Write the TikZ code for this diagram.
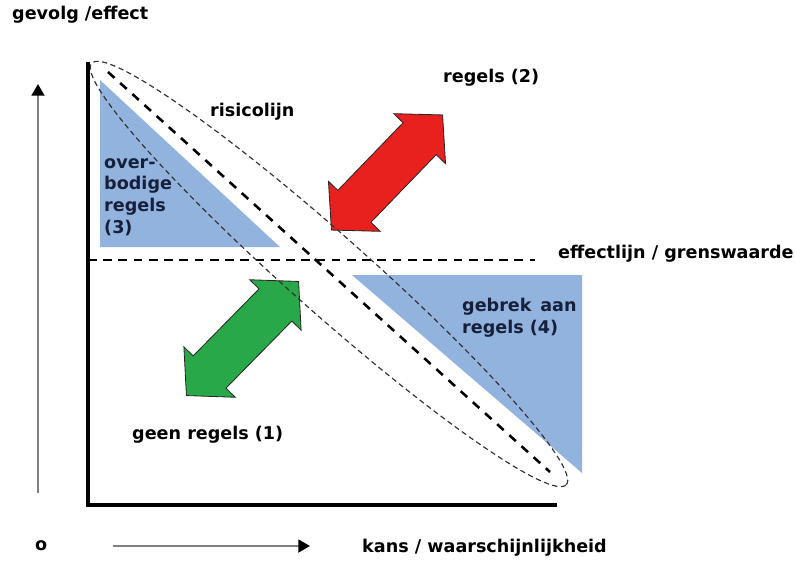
\documentclass[tikz,border=0pt]{standalone}
\usepackage{fontspec}
\setmainfont{DejaVu Sans}
\usetikzlibrary{arrows.meta,calc}
\definecolor{zoneblue}{RGB}{146,179,222}
\definecolor{alarmred}{RGB}{232,32,30}
\definecolor{safegreen}{RGB}{40,168,72}
\definecolor{zonetext}{RGB}{22,32,58}
% double block arrow: name, fill colour, centre, angle
\newcommand{\dblarrow}[4]{%
  \begin{scope}[shift={#3},rotate=#4,x=0.03cm,y=0.03cm]
    \filldraw[fill=#2,draw=black!85,line width=0.7pt] (-80,0) -- (-47,36) -- (-47,23) -- (47,23) -- (47,36) -- (80,0)
      -- (47,-36) -- (47,-23) -- (-47,-23) -- (-47,-36) -- cycle;
    \coordinate (#1) at (0,0);
  \end{scope}}

\begin{document}
\begin{tikzpicture}[x=0.03cm,y=-0.03cm,
    lbl/.style={font=\bfseries\fontsize{15}{18.5}\selectfont,inner sep=0pt,anchor=west},
    zonelbl/.style={lbl,text=zonetext,align=left},
    axis/.style={line width=2.6pt,line join=miter},
    pointer/.style={draw=black!50,line width=1.9pt,-{Triangle[length=10pt,width=11pt,black]}}]
  \useasboundingbox (0,0) rectangle (795,561);

  % zones
  \fill[zoneblue] (100,80) -- (100,247) -- (280,247) -- cycle;
  \fill[zoneblue] (352,275) -- (582,275) -- (582,473) -- cycle;

  % axes
  \coordinate (top) at (88,62);
  \coordinate (origin) at (88,505);
  \coordinate (right) at (557,505);
  \draw[axis] (top) -- (origin) -- (right);

  % direction arrows
  \coordinate (upfrom) at (38,493);
  \coordinate (upto) at (38,84);
  \draw[pointer] (upfrom) -- (upto);
  \node[lbl] (zero) at (35,546) {o};
  \coordinate (rightfrom) at (113,546);
  \coordinate (rightto) at (310,546);
  \draw[pointer] (rightfrom) -- (rightto);

  % block arrows
  \dblarrow{rules2}{alarmred}{(387,172.5)}{46}
  \dblarrow{rules1}{safegreen}{(242.5,338.5)}{45.5}

  % effect line
  \coordinate (effA) at (88,260);
  \coordinate (effB) at (535,260);
  \draw[line width=1.4pt,dash pattern=on 7.5pt off 5.5pt] (effA) -- (effB);

  % band round the risk line
  \coordinate (band) at (329,274);
  \draw[black!80,line width=1pt,dash pattern=on 4.5pt off 3pt,rotate around={-41.6:(band)}]
    (band) ellipse [x radius=9.52cm,y radius=1.16cm];

  % risk line
  \coordinate (riskA) at (108,72);
  \coordinate (riskB) at (550,472);
  \draw[line width=2.2pt,dash pattern=on 7.5pt off 6.5pt] (riskA) -- (riskB);

  % labels
  \node[lbl] (yname) at (12,15) {gevolg /effect};
  \node[lbl] (riskname) at (210,112) {risicolijn};
  \node[lbl] (rules2txt) at (443,78) {regels (2)};
  \node[lbl] (effname) at (558,254) {effectlijn / grenswaarde};
  \node[zonelbl,anchor=north west] (zone3) at (104,158) {over-\\bodige\\regels\\(3)};
  \node[zonelbl,anchor=north west] (zone4) at (462,298) {gebrek\hspace{0.5em}aan\\regels (4)};
  \node[lbl] (rules1txt) at (132,435) {geen regels (1)};
  \node[lbl] (xname) at (362,548) {kans / waarschijnlijkheid};
\end{tikzpicture}
\end{document}
